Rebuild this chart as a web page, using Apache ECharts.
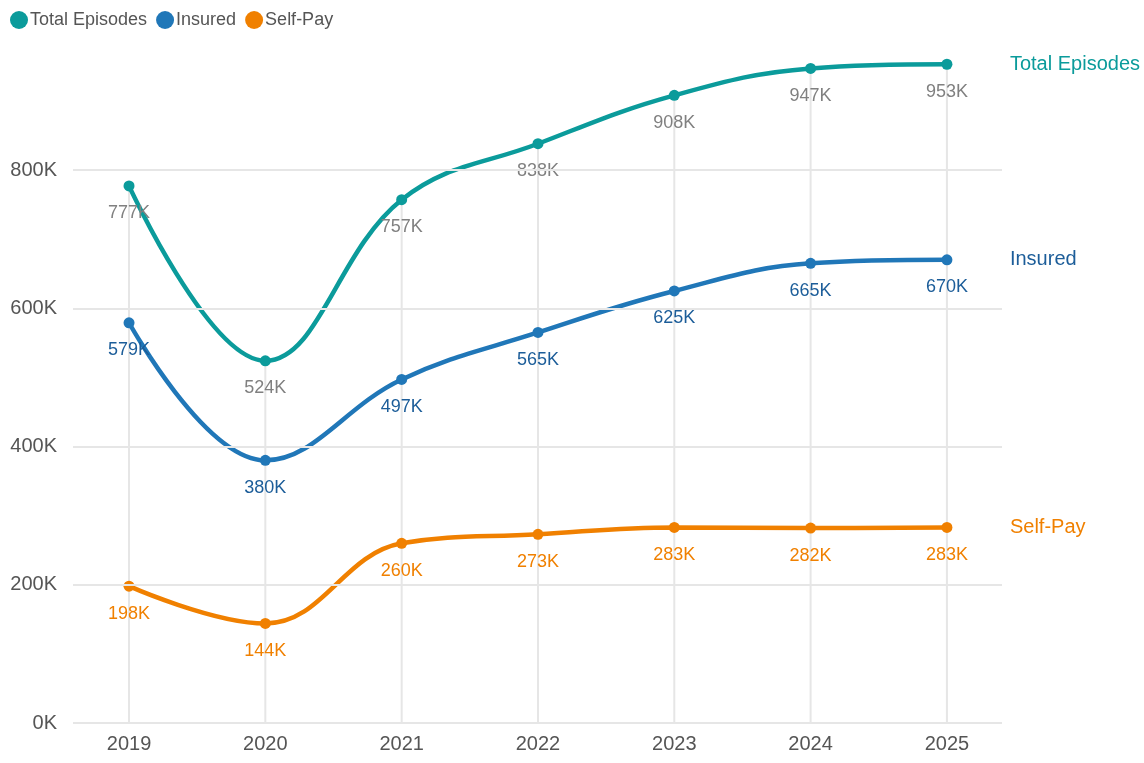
<!DOCTYPE html>
<html>
<head>
<meta charset="utf-8">
<script src="https://cdn.jsdelivr.net/npm/echarts@6/dist/echarts.min.js"></script>
<style>
  html, body { margin: 0; padding: 0; background: #fff; }
  #chart { width: 1144px; height: 763px; }
</style>
</head>
<body>
<div id="chart"></div>
<script>
// values in thousands
var years = [2019, 2020, 2021, 2022, 2023, 2024, 2025];
var totalEpisodes = [777, 524, 757, 838, 908, 947, 953];
var insured = [579, 380, 497, 565, 625, 665, 670];
var selfPay = [198, 144, 260, 273, 283, 282, 283];
var yTicks = [0, 200, 400, 600, 800];

function pairs(vals) {
  return years.map(function (y, i) { return [y, vals[i]]; });
}

function lineSeries(name, vals, color, labelColor, endColor) {
  return {
    name: name,
    type: 'line',
    smooth: 0.4,
    z: 3,
    data: pairs(vals),
    symbol: 'circle',
    symbolSize: 11,
    lineStyle: { width: 4.5, color: color },
    itemStyle: { color: color },
    label: {
      show: true,
      position: 'bottom',
      distance: 13,
      fontSize: 18,
      color: labelColor,
      formatter: function (p) { return p.value[1] + 'K'; }
    },
    endLabel: {
      show: true,
      formatter: name,
      fontSize: 20,
      color: endColor,
      distance: 63
    },
    labelLayout: { hideOverlap: false }
  };
}

var chart = echarts.init(document.getElementById('chart'));

var option = {
  backgroundColor: '#ffffff',
  animation: false,
  textStyle: { fontFamily: '"Liberation Sans", Arial, sans-serif' },
  legend: {
    left: 10,
    top: 11,
    padding: 0,
    icon: 'circle',
    itemWidth: 18,
    itemHeight: 18,
    itemGap: 9,
    textStyle: { fontSize: 18, color: '#555', padding: [0, 0, 0, -3] },
    data: ['Total Episodes', 'Insured', 'Self-Pay']
  },
  grid: { left: 73, right: 142, top: 31.75, bottom: 40 },
  xAxis: {
    type: 'value',
    min: 2018.589,
    max: 2025.404,
    axisLine: { show: false },
    axisTick: { show: false },
    splitLine: { show: false },
    axisLabel: {
      customValues: years,
      fontSize: 20,
      color: '#555',
      margin: 11,
      formatter: function (v) { return String(v); }
    }
  },
  yAxis: {
    type: 'value',
    min: 0,
    max: 1000,
    interval: 200,
    axisLine: { show: false },
    axisTick: { show: false },
    splitLine: { show: false },
    axisLabel: {
      showMaxLabel: false,
      fontSize: 20,
      color: '#555',
      margin: 16,
      formatter: function (v) { return v + 'K'; }
    }
  },
  series: [
    {
      name: 'drop',
      type: 'bar',
      silent: true,
      z: 1,
      barWidth: 2,
      data: pairs(totalEpisodes),
      itemStyle: { color: '#e6e6e6' },
      markLine: {
        silent: true,
        symbol: 'none',
        label: { show: false },
        lineStyle: { color: '#e6e6e6', width: 2, type: 'solid' },
        data: yTicks.map(function (t) { return { yAxis: t }; })
      }
    },
    lineSeries('Total Episodes', totalEpisodes, '#0b9b9b', '#808080', '#0b9b9b'),
    lineSeries('Insured', insured, '#2077b8', '#1c5d99', '#1c5d99'),
    lineSeries('Self-Pay', selfPay, '#f08000', '#f08000', '#f08000')
  ]
};

chart.setOption(option);
</script>
</body>
</html>
